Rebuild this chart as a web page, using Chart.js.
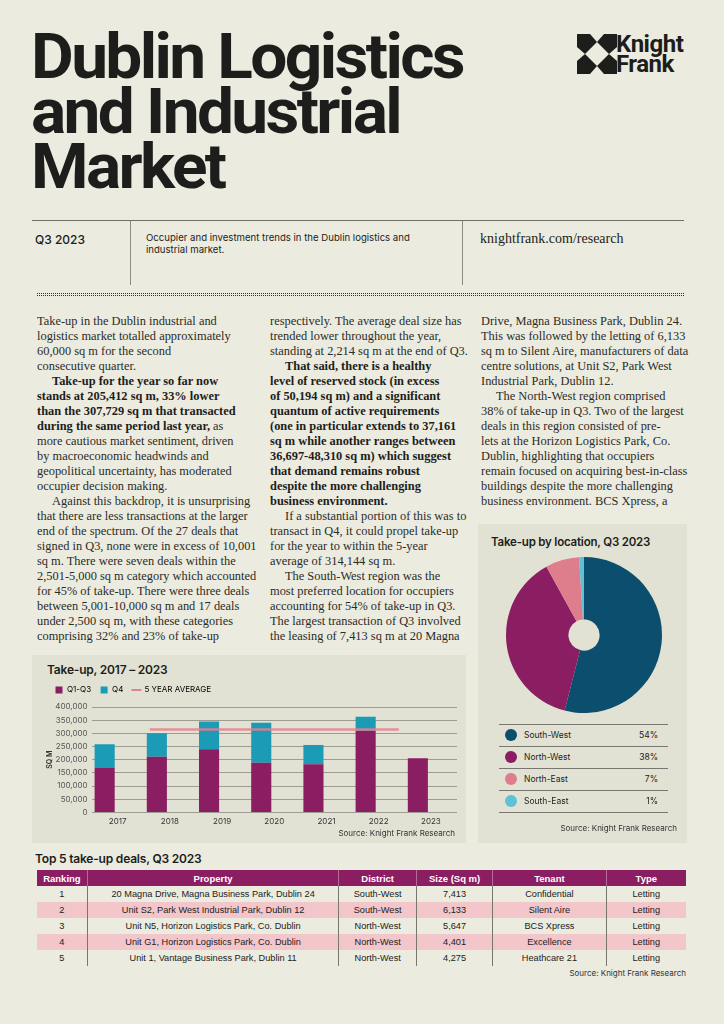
<!DOCTYPE html>
<html>
<head>
<meta charset="utf-8">
<script src="https://cdn.jsdelivr.net/npm/chart.js@4.4.0/dist/chart.umd.min.js"></script>
<style>
  html, body { margin: 0; padding: 0; }
  body { width: 724px; height: 1024px; background: #ebebdf; position: relative; overflow: hidden;
         font-family: Inter, "Liberation Sans", sans-serif; color: #1d1d1b; }
  .abs { position: absolute; }
  .tline { left: 31px; height: 55px; font-family: Roboto, sans-serif; font-weight: 700; font-size: 63px;
           line-height: 55px; letter-spacing: -2.5px; transform-origin: left top; white-space: nowrap; }
  .logo { left: 577px; top: 34px; }
  .ltext { left: 616px; height: 20px; font-family: Roboto, sans-serif; font-weight: 700; font-size: 24px;
           line-height: 20px; letter-spacing: -0.5px; }
  .rule { left: 32px; top: 220px; width: 652px; height: 1px; background: #6f6f66; }
  .vdiv { top: 221px; width: 1px; height: 64px; background: #8c8c82; }
  .hdr { font-size: 12px; font-weight: 500; }
  .desc { left: 146px; top: 232px; font-size: 9.6px; line-height: 12px; }
  .url { left: 480px; top: 231px; font-family: "Liberation Serif", serif; font-size: 14px; }
  .dots { left: 37px; top: 292px; width: 648px; height: 5px;
          background-image: repeating-linear-gradient(0deg, #ebebdf 0 1px, transparent 1px 2px),
                            repeating-linear-gradient(90deg, #333331 0 1px, #ebebdf 1px 2px); }
  .col { top: 314px; font-family: "Liberation Serif", serif; font-size: 12.4px; line-height: 15.02px;
         white-space: nowrap; color: #2b2b28; }
  .col b { font-weight: 700; color: #1d1d1b; }
  .ind { padding-left: 15px; }
  .panel { background: #e1e2d4; }
  .ptitle { font-weight: 600; font-size: 12px; letter-spacing: -0.2px; }
  .src { font-size: 8px; color: #333; }
  table.deals { border-collapse: collapse; font-family: "Liberation Sans", Arial, sans-serif; font-size: 9.2px; color: #222; }
  table.deals td, table.deals th { text-align: center; padding: 0; height: 16px; }
  table.deals th { background: #8b1d62; color: #fff; font-weight: 700; font-size: 9.5px; border-left: 1px solid #b86a96; }
  table.deals td { border-left: 1px solid #77776f; }
  table.deals th:first-child, table.deals td:first-child { border-left: none; }
  table.deals tr.alt td { background: #f2c6cb; }
  .leg { left: 499px; width: 169px; font-size: 8.5px; }
  .leg .row { position: relative; height: 21px; border-top: 1px solid #77776f; }
  .leg .row:last-child { border-bottom: 1px solid #77776f; }
  .leg .dot { position: absolute; left: 6px; top: 4px; width: 12px; height: 12px; border-radius: 50%; }
  .leg .lab { position: absolute; left: 25px; top: 5px; }
  .leg .pct { position: absolute; right: 10px; top: 5px; }
</style>
</head>
<body>

<div class="abs tline" style="top:29px">Dublin Logistics</div>
<div class="abs tline" style="top:84px">and Industrial</div>
<div class="abs tline" style="top:139px">Market</div>

<svg class="abs logo" width="40" height="40" viewBox="0 0 40 40">
  <polygon points="0,0 13,0 20,8 8,20 0,13" fill="#1d1d1b"/>
  <polygon points="40,0 27,0 20,8 32,20 40,13" fill="#1d1d1b"/>
  <polygon points="0,40 13,40 20,32 8,20 0,27" fill="#1d1d1b"/>
  <polygon points="40,40 27,40 20,32 32,20 40,27" fill="#1d1d1b"/>
</svg>
<div class="abs ltext" style="top:34px">Knight</div>
<div class="abs ltext" style="top:54px">Frank</div>

<div class="abs rule"></div>
<div class="abs vdiv" style="left:130px"></div>
<div class="abs vdiv" style="left:462px"></div>
<div class="abs hdr" style="left:35px; top:232px;">Q3 2023</div>
<div class="abs desc">Occupier and investment trends in the Dublin logistics and<br>industrial market.</div>
<div class="abs url">knightfrank.com/research</div>
<div class="abs dots"></div>

<div class="abs col" style="left:37px">
Take-up in the Dublin industrial and<br>
logistics market totalled approximately<br>
60,000 sq m for the second<br>
consecutive quarter.<br>
<span class="ind"></span><b>Take-up for the year so far now</b><br>
<b>stands at 205,412 sq m, 33% lower</b><br>
<b>than the 307,729 sq m that transacted</b><br>
<b>during the same period last year,</b> as<br>
more cautious market sentiment, driven<br>
by macroeconomic headwinds and<br>
geopolitical uncertainty, has moderated<br>
occupier decision making.<br>
<span class="ind"></span>Against this backdrop, it is unsurprising<br>
that there are less transactions at the larger<br>
end of the spectrum. Of the 27 deals that<br>
signed in Q3, none were in excess of 10,001<br>
sq m. There were seven deals within the<br>
2,501-5,000 sq m category which accounted<br>
for 45% of take-up. There were three deals<br>
between 5,001-10,000 sq m and 17 deals<br>
under 2,500 sq m, with these categories<br>
comprising 32% and 23% of take-up
</div>

<div class="abs col" style="left:270px">
respectively. The average deal size has<br>
trended lower throughout the year,<br>
standing at 2,214 sq m at the end of Q3.<br>
<span class="ind"></span><b>That said, there is a healthy</b><br>
<b>level of reserved stock (in excess</b><br>
<b>of 50,194 sq m) and a significant</b><br>
<b>quantum of active requirements</b><br>
<b>(one in particular extends to 37,161</b><br>
<b>sq m while another ranges between</b><br>
<b>36,697-48,310 sq m) which suggest</b><br>
<b>that demand remains robust</b><br>
<b>despite the more challenging</b><br>
<b>business environment.</b><br>
<span class="ind"></span>If a substantial portion of this was to<br>
transact in Q4, it could propel take-up<br>
for the year to within the 5-year<br>
average of 314,144 sq m.<br>
<span class="ind"></span>The South-West region was the<br>
most preferred location for occupiers<br>
accounting for 54% of take-up in Q3.<br>
The largest transaction of Q3 involved<br>
the leasing of 7,413 sq m at 20 Magna
</div>

<div class="abs col" style="left:481px">
Drive, Magna Business Park, Dublin 24.<br>
This was followed by the letting of 6,133<br>
sq m to Silent Aire, manufacturers of data<br>
centre solutions, at Unit S2, Park West<br>
Industrial Park, Dublin 12.<br>
<span class="ind"></span>The North-West region comprised<br>
38% of take-up in Q3. Two of the largest<br>
deals in this region consisted of pre-<br>
lets at the Horizon Logistics Park, Co.<br>
Dublin, highlighting that occupiers<br>
remain focused on acquiring best-in-class<br>
buildings despite the more challenging<br>
business environment. BCS Xpress, a
</div>

<!-- bar chart panel -->
<div class="abs panel" style="left:32px; top:655px; width:434px; height:188px;"></div>
<div class="abs ptitle" style="left:47px; top:662px;">Take-up, 2017 – 2023</div>
<div class="abs" style="left:32px; top:676px; width:434px; height:154px;"><canvas id="barChart"></canvas></div>
<div class="abs src" style="right:269px; top:828px;">Source: Knight Frank Research</div>

<!-- pie panel -->
<div class="abs panel" style="left:478px; top:524px; width:209px; height:319px;"></div>
<div class="abs ptitle" style="left:491px; top:535px; font-size:11.5px;">Take-up by location, Q3 2023</div>
<div class="abs" style="left:500px; top:551px; width:168px; height:168px;"><canvas id="pieChart"></canvas></div>
<div class="abs leg" id="pieLegend" style="top:724px;"></div>
<div class="abs src" style="right:47px; top:823px;">Source: Knight Frank Research</div>

<!-- table -->
<div class="abs ptitle" style="left:35px; top:851px;">Top 5 take-up deals, Q3 2023</div>
<table class="abs deals" id="deals" style="left:37px; top:870px; width:649px;"></table>
<div class="abs src" style="right:38px; top:968px;">Source: Knight Frank Research</div>

<script>
// 막대 차트 데이터
const years = ["2017", "2018", "2019", "2020", "2021", "2022", "2023"];
const q1q3 = [170000, 211000, 240000, 188000, 183000, 310000, 205412];
const q4 = [89000, 89000, 105000, 152000, 73000, 53000, null];
const avgYears = ["2018", "2022"];
const fiveYearAvg = 314144;
const yTicks = [0, 50000, 100000, 150000, 200000, 250000, 300000, 350000, 400000];

// 도넛 차트 데이터
const regions = ["South-West", "North-West", "North-East", "South-East"];
const regionShare = [54, 38, 7, 1];
const regionColors = ["#0c4e6d", "#8b1d62", "#de7d8c", "#5ec1d6"];

// 표 데이터
const dealHeaders = ["Ranking", "Property", "District", "Size (Sq m)", "Tenant", "Type"];
const dealRank = [1, 2, 3, 4, 5];
const dealProperty = [
  "20 Magna Drive, Magna Business Park, Dublin 24",
  "Unit S2, Park West Industrial Park, Dublin 12",
  "Unit N5, Horizon Logistics Park, Co. Dublin",
  "Unit G1, Horizon Logistics Park, Co. Dublin",
  "Unit 1, Vantage Business Park, Dublin 11"
];
const dealDistrict = ["South-West", "South-West", "North-West", "North-West", "North-West"];
const dealSize = [7413, 6133, 5647, 4401, 4275];
const dealTenant = ["Confidential", "Silent Aire", "BCS Xpress", "Excellence", "Heathcare 21"];
const dealType = ["Letting", "Letting", "Letting", "Letting", "Letting"];
const colWidths = [50, 253, 77, 76, 113, 80];

const PURPLE = "#8b1d62";
const TEAL = "#1b9bb6";
const PINK = "#e0818f";
const fmt = new Intl.NumberFormat("en-GB");

// 5년 평균선: 막대 가장자리에서 가장자리까지
const barPct = 0.77;
const avgLine = [
  { x: years.indexOf(avgYears[0]) - barPct / 2, y: fiveYearAvg },
  { x: years.indexOf(avgYears[1]) + barPct / 2, y: fiveYearAvg }
];

new Chart(document.getElementById("barChart"), {
  data: {
    labels: years,
    datasets: [
      { type: "bar", label: "Q1-Q3", data: q1q3, backgroundColor: PURPLE, stack: "t",
        barPercentage: barPct, categoryPercentage: 1, order: 2 },
      { type: "bar", label: "Q4", data: q4, backgroundColor: TEAL, stack: "t",
        barPercentage: barPct, categoryPercentage: 1, order: 2 },
      { type: "line", label: "5 YEAR AVERAGE", data: avgLine, xAxisID: "xAvg", stack: "avg",
        borderColor: "rgba(228,128,142,0.85)", borderWidth: 2.5, pointRadius: 0, order: 1 }
    ]
  },
  options: {
    responsive: true,
    maintainAspectRatio: false,
    animation: false,
    layout: { padding: { left: 14, right: 9, top: 1, bottom: 0 } },
    plugins: {
      legend: {
        align: "start",
        labels: {
          usePointStyle: true,
          boxWidth: 8, boxHeight: 7, padding: 9,
          font: { family: "Inter", size: 8 }, color: "#333",
          generateLabels: (chart) => chart.data.datasets.map((ds, i) => ({
            text: ds.label,
            fillStyle: ds.type === "line" ? PINK : ds.backgroundColor,
            strokeStyle: ds.type === "line" ? PINK : ds.backgroundColor,
            lineWidth: ds.type === "line" ? 2 : 0,
            pointStyle: ds.type === "line" ? "line" : "rect",
            datasetIndex: i
          }))
        }
      },
      tooltip: { enabled: false }
    },
    scales: {
      x: {
        stacked: true,
        grid: { display: false, drawTicks: false, tickLength: 0 },
        border: { display: false },
        ticks: { color: "#333", font: { family: "Inter", size: 8 }, padding: 4 }
      },
      xAvg: {
        type: "linear", display: false, min: -0.5, max: years.length - 0.5
      },
      y: {
        stacked: true,
        min: 0, max: 400000,
        afterBuildTicks: (scale) => { scale.ticks = yTicks.map((v) => ({ value: v })); },
        afterFit: (scale) => { scale.width = 45.6; },
        grid: { color: "#9c9c92", lineWidth: 1, drawTicks: false },
        border: { display: false },
        ticks: { color: "#555", font: { family: "Inter", size: 8 }, padding: 4,
                 callback: (v) => fmt.format(v) },
        title: { display: true, text: "SQ M", color: "#333", padding: 0,
                 font: { family: "Inter", size: 7, weight: "600" } }
      }
    }
  },
  plugins: [
    {
      // 범례 아래 여백 추가
      id: "legendGap",
      afterInit(chart) {
        const fit = chart.legend.fit;
        chart.legend.fit = function () {
          fit.call(this);
          this.height += 3;
        };
      }
    }
  ]
});

new Chart(document.getElementById("pieChart"), {
  type: "doughnut",
  data: {
    labels: regions,
    datasets: [{ data: regionShare, backgroundColor: regionColors, borderWidth: 0 }]
  },
  options: {
    responsive: true,
    maintainAspectRatio: false,
    animation: false,
    cutout: "20%",
    layout: { padding: 6 },
    plugins: { legend: { display: false }, tooltip: { enabled: false } }
  }
});

// 도넛 범례 렌더링
const leg = document.getElementById("pieLegend");
regions.forEach((r, i) => {
  const row = document.createElement("div");
  row.className = "row";
  row.innerHTML = `<span class="dot" style="background:${regionColors[i]}"></span>` +
    `<span class="lab">${r}</span><span class="pct">${regionShare[i]}%</span>`;
  leg.appendChild(row);
});

// 표 렌더링
const table = document.getElementById("deals");
let html = "<tr>" + dealHeaders.map((h, i) => `<th style="width:${colWidths[i]}px">${h}</th>`).join("") + "</tr>";
dealRank.forEach((rank, i) => {
  html += `<tr class="${i % 2 === 1 ? "alt" : ""}"><td>${rank}</td><td>${dealProperty[i]}</td>` +
    `<td>${dealDistrict[i]}</td><td>${fmt.format(dealSize[i])}</td><td>${dealTenant[i]}</td><td>${dealType[i]}</td></tr>`;
});
table.innerHTML = html;

// 제목 폭 맞추기 (첫 줄 기준)
const lines = document.querySelectorAll(".tline");
const w = lines[0].getBoundingClientRect().width;
const sx = (432 / w).toFixed(3);
lines.forEach((el) => { el.style.transform = `scaleX(${sx})`; });
</script>
</body>
</html>
